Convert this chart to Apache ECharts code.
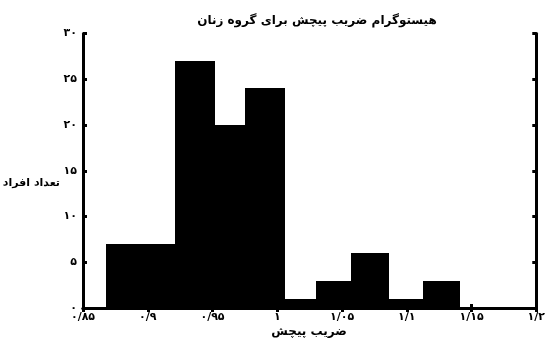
<!DOCTYPE html>
<html>
<head>
<meta charset="utf-8">
<style>
  html, body { margin: 0; padding: 0; background: #fff; }
  #chart { width: 548px; height: 339px; }
</style>
<script src="https://cdn.jsdelivr.net/npm/echarts@6/dist/echarts.min.js"></script>
</head>
<body>
<div id="chart"></div>
<script>
// Histogram bins: left/right edges and counts
var binEdges = [0.8676, 0.8943, 0.9211, 0.9520, 0.9751, 1.0057, 1.0298, 1.0573, 1.0864, 1.1126, 1.1414];
var counts = [7, 7, 27, 20, 24, 1, 3, 6, 1, 3];

// Tick labels (Persian digits, slash as decimal separator)
var xTickValues = [0.85, 0.9, 0.95, 1, 1.05, 1.1, 1.15, 1.2];
var xTickLabels = ['۰/۸۵', '۰/۹', '۰/۹۵', '۱', '۱/۰۵', '۱/۱', '۱/۱۵', '۱/۲'];
var yTickValues = [0, 5, 10, 15, 20, 25, 30];
var yTickLabels = ['۰', '۵', '۱۰', '۱۵', '۲۰', '۲۵', '۳۰'];

var titleText = 'هیستوگرام ضریب پیچش برای گروه زنان';
var xName = 'ضریب پیچش';
var yName = 'تعداد افراد';

var FONT = '"DejaVu Sans", "Noto Sans", sans-serif';

function lookup(values, labels, v) {
  for (var i = 0; i < values.length; i++) {
    if (Math.abs(values[i] - v) < 1e-6) return labels[i];
  }
  return '';
}

var histData = counts.map(function (c, i) {
  return [binEdges[i], binEdges[i + 1], c];
});

var axisLine = { show: true, lineStyle: { color: '#000', width: 3 } };
var axisTick = { show: true, inside: true, length: 4, lineStyle: { color: '#000', width: 3 } };

var chart = echarts.init(document.getElementById('chart'), null, { renderer: 'canvas' });
chart.setOption({
  animation: false,
  backgroundColor: '#fff',
  grid: { left: 83, right: 7, top: 33.5, bottom: 31, containLabel: false },
  title: {
    text: titleText,
    left: 312, top: 10, textAlign: 'center',
    textStyle: { fontFamily: FONT, fontSize: 12, fontWeight: 'bold', color: '#000' }
  },
  graphic: [
    {
      type: 'text', x: 60, y: 183,
      style: {
        text: yName, fill: '#000', font: 'bold 11px ' + FONT,
        textAlign: 'right', textVerticalAlign: 'middle'
      }
    },
    {
      type: 'text', x: 309, y: 332,
      style: {
        text: xName, fill: '#000', font: 'bold 12px ' + FONT,
        textAlign: 'center', textVerticalAlign: 'middle'
      }
    }
  ],
  xAxis: [
    {
      type: 'value', min: 0.85, max: 1.2, interval: 0.05, position: 'bottom',
      axisLine: axisLine, axisTick: axisTick, splitLine: { show: false },
      axisLabel: {
        show: true, margin: 4, color: '#000', fontFamily: FONT, fontSize: 11, fontWeight: 'bold',
        showMinLabel: true, showMaxLabel: true,
        formatter: function (v) { return lookup(xTickValues, xTickLabels, v); }
      }
    },
    {
      type: 'value', min: 0.85, max: 1.2, interval: 0.05, position: 'top',
      axisLine: axisLine, axisTick: axisTick, splitLine: { show: false },
      axisLabel: { show: false }
    }
  ],
  yAxis: [
    {
      type: 'value', min: 0, max: 30, interval: 5, position: 'left',
      axisLine: axisLine, axisTick: axisTick, splitLine: { show: false },
      axisLabel: {
        show: true, margin: 6, color: '#000', fontFamily: FONT, fontSize: 11, fontWeight: 'bold',
        formatter: function (v) { return lookup(yTickValues, yTickLabels, v); }
      }
    },
    {
      type: 'value', min: 0, max: 30, interval: 5, position: 'right',
      axisLine: axisLine, axisTick: axisTick, splitLine: { show: false },
      axisLabel: { show: false }
    }
  ],
  series: [
    {
      type: 'custom',
      xAxisIndex: 0, yAxisIndex: 0,
      data: histData,
      encode: { x: [0, 1], y: 2 },
      renderItem: function (params, api) {
        var topLeft = api.coord([api.value(0), api.value(2)]);
        var bottomRight = api.coord([api.value(1), 0]);
        // snap to whole pixels so adjacent bins join without seams
        var x0 = Math.round(topLeft[0]);
        var x1 = Math.round(bottomRight[0]);
        var y0 = Math.round(topLeft[1]);
        var y1 = Math.round(bottomRight[1]);
        return {
          type: 'rect',
          shape: { x: x0, y: y0, width: x1 - x0, height: y1 - y0 },
          style: { fill: '#000' }
        };
      }
    }
  ]
});
</script>
</body>
</html>
